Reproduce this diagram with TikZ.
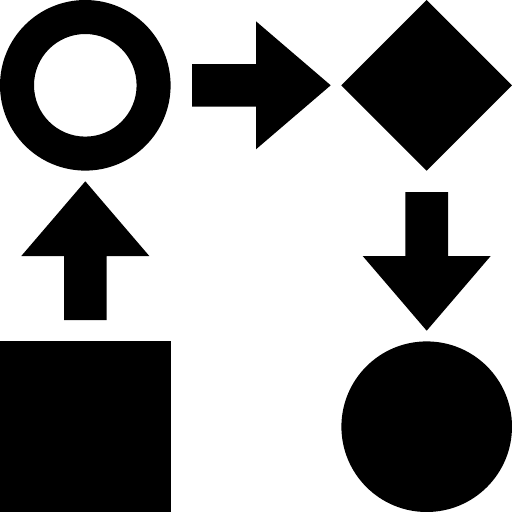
\documentclass[tikz,border=0pt]{standalone}
\begin{document}
\begin{tikzpicture}[x=1pt,y=-1pt,glyph/.style={fill=black,draw=none}]
\useasboundingbox (0,0) rectangle (512,512);
% ring
\fill[glyph,even odd rule] (85.3,85.3) circle (85.3) (85.3,85.3) circle (51.3);
% right arrow
\fill[glyph] (192,64) -- (256,64) -- (256,21.3) -- (330.7,85.3) -- (256,149.3) -- (256,106.7) -- (192,106.7) -- cycle;
% diamond
\fill[glyph] (426.7,0) -- (512,85.3) -- (426.7,170.7) -- (341.3,85.3) -- cycle;
% down arrow
\fill[glyph] (405.3,192) -- (448,192) -- (448,256) -- (490.7,256) -- (426.7,330.7) -- (362.7,256) -- (405.3,256) -- cycle;
% filled circle
\fill[glyph] (426.7,426.7) circle (85.3);
% square
\fill[glyph] (0,341.3) rectangle (170.7,512);
% up arrow
\fill[glyph] (64,320) -- (106.7,320) -- (106.7,256) -- (149.3,256) -- (85.3,181.3) -- (21.3,256) -- (64,256) -- cycle;
\end{tikzpicture}
\end{document}
